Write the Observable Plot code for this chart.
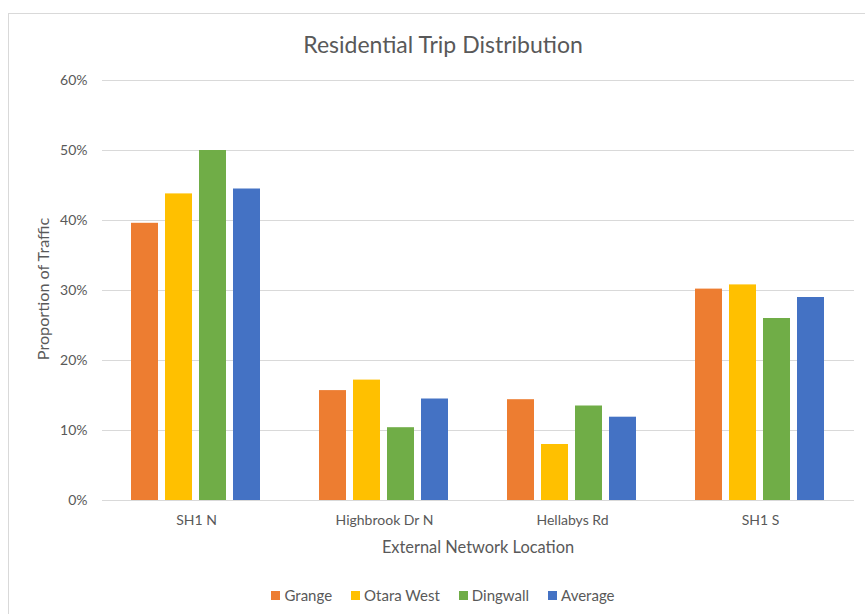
<!DOCTYPE html>
<html>
<head>
<meta charset="utf-8">
<script src="https://cdn.jsdelivr.net/npm/d3@7"></script>
<script src="https://cdn.jsdelivr.net/npm/@observablehq/plot@0.6"></script>
<style>
  body { margin: 0; background: #fff; font-family: Lato, "Open Sans", sans-serif; }
  #wrap { position: relative; width: 865px; height: 614px; overflow: hidden; background: #fff; color: #595959; }
  #border { position: absolute; left: 8px; top: 13px; width: 900px; height: 700px; border: 1px solid #d9d9d9; box-sizing: border-box; }
  #title { position: absolute; left: 8px; width: 870px; top: 30px; text-align: center; font-size: 23px; line-height: 28px; }
  .layer { position: absolute; left: 0; top: 60px; }
  #xtitle { position: absolute; left: 102px; width: 752px; top: 537px; text-align: center; font-size: 16.4px; line-height: 20px; }
  #ytitle { position: absolute; left: 43px; top: 289px; transform: translate(-50%, -50%) rotate(-90deg); white-space: nowrap; font-size: 16.2px; line-height: 20px; }
  #legend { position: absolute; left: 8px; width: 870px; top: 585px; display: flex; justify-content: center; gap: 19px; font-size: 15px; line-height: 20px; }
  .item { display: flex; align-items: center; }
  .sw { width: 9px; height: 9px; margin-right: 4px; }
</style>
</head>
<body>
<div id="wrap">
  <div id="border"></div>
  <div id="title">Residential Trip Distribution</div>
  <div id="grid" class="layer"></div>
  <div id="bars" class="layer"></div>
  <div id="ytitle">Proportion of Traffic</div>
  <div id="xtitle">External Network Location</div>
  <div id="legend"></div>
</div>
<script>
const locations = ["SH1 N", "Highbrook Dr N", "Hellabys Rd", "SH1 S"];
const series = ["Grange", "Otara West", "Dingwall", "Average"];
const colors = ["#ED7D31", "#FFC000", "#70AD47", "#4472C4"];
const grange    = [39.6, 15.7, 14.4, 30.2];
const otaraWest = [43.8, 17.2, 8.0, 30.8];
const dingwall  = [50.0, 10.4, 13.5, 26.0];
const average   = [44.5, 14.5, 11.9, 29.0];
const yTicks = [0, 10, 20, 30, 40, 50, 60];

const seriesValues = [grange, otaraWest, dingwall, average];
const rows = locations.flatMap((loc, i) =>
  series.map((s, j) => ({ location: loc, series: s, value: seriesValues[j][i] }))
);

const common = {
  width: 865, height: 470,
  marginTop: 20, marginBottom: 30, marginLeft: 102, marginRight: 11,
  style: { background: "transparent", color: "#595959", fontFamily: "Lato, 'Open Sans', sans-serif", fontSize: "14px" }
};

const grid = Plot.plot({
  ...common,
  x: { type: "band", domain: locations, paddingInner: 0.277, paddingOuter: 0.1385, tickSize: 0, tickPadding: 15, label: null },
  y: { domain: [0, 60], ticks: yTicks, tickSize: 0, tickPadding: 15, tickFormat: d => d + "%", label: null },
  marks: [
    Plot.ruleY(yTicks, { stroke: "#d9d9d9", strokeWidth: 1 })
  ]
});
document.getElementById("grid").appendChild(grid);

const bars = Plot.plot({
  ...common,
  fx: { domain: locations, paddingInner: 0.277, paddingOuter: 0.1385, axis: null, label: null },
  x: { domain: series, paddingInner: 0.2, paddingOuter: 0.1, axis: null },
  y: { domain: [0, 60], axis: null },
  color: { domain: series, range: colors },
  marks: [
    Plot.barY(rows, { fx: "location", x: "series", y: "value", fill: "series" })
  ]
});
document.getElementById("bars").appendChild(bars);

const legend = document.getElementById("legend");
series.forEach((s, i) => {
  const it = document.createElement("div");
  it.className = "item";
  const sw = document.createElement("span");
  sw.className = "sw";
  sw.style.background = colors[i];
  const t = document.createElement("span");
  t.textContent = s;
  it.appendChild(sw); it.appendChild(t);
  legend.appendChild(it);
});
</script>
</body>
</html>
